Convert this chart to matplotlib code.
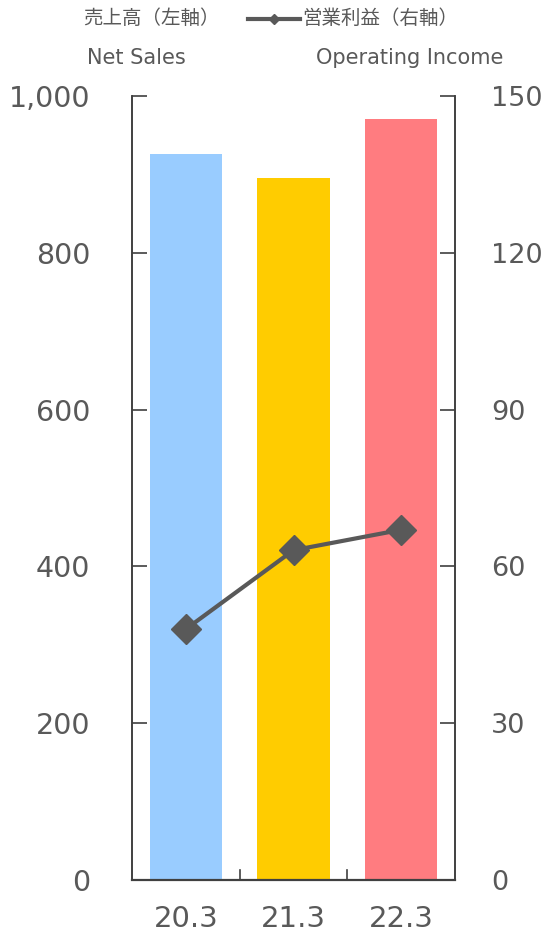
import matplotlib
matplotlib.use("Agg")
import matplotlib.pyplot as plt
from matplotlib.lines import Line2D

plt.rcParams['font.family'] = ['DejaVu Sans', 'Noto Sans CJK JP']

years = ["20.3", "21.3", "22.3"]
net_sales = [926, 895, 971]
operating_income = [48.0, 63.1, 67.0]
bar_colors = ["#99CCFF", "#FFCC00", "#FF7C80"]

left_ticks = [0, 200, 400, 600, 800, 1000]
left_labels = ["0", "200", "400", "600", "800", "1,000"]
right_ticks = [0, 30, 60, 90, 120, 150]

gray = "#595959"
spine_c = "#404040"

fig = plt.figure(figsize=(5.45, 9.35), dpi=100)
ax = fig.add_axes([132 / 545, 1 - 880 / 935, 323 / 545, 784 / 935])
ax2 = ax.twinx()

x = range(len(years))
ax.bar(x, net_sales, width=0.67, color=bar_colors, zorder=2)
ax.set_xlim(-0.5, 2.5)
ax.set_ylim(0, 1000)
ax.set_yticks(left_ticks)
ax.set_yticklabels(left_labels)
ax.set_xticks(list(x))
ax.set_xticklabels(years)
ax.tick_params(axis='x', length=0, labelsize=21, labelcolor=gray, pad=18)
ax.tick_params(axis='y', direction='in', length=11, width=1.2, color=spine_c,
               labelsize=20.5, labelcolor=gray, pad=30)
for tx in [0.5, 1.5]:
    ax.plot([tx, tx], [0, 13], color=spine_c, lw=1.2, zorder=3, clip_on=False)

ax2.plot(list(x), operating_income, color=gray, lw=3, marker='D', markersize=15,
         zorder=4)
ax2.set_ylim(0, 150)
ax2.set_yticks(right_ticks)
ax2.tick_params(axis='y', direction='in', length=11, width=1.2, color=spine_c,
                labelsize=19.5, labelcolor=gray, pad=26)

for a in (ax, ax2):
    a.spines['top'].set_visible(False)
    for s in ('left', 'right', 'bottom'):
        a.spines[s].set_color(spine_c)
        a.spines[s].set_linewidth(1.2)
ax.spines['bottom'].set_linewidth(1.6)

# header texts
cjk = ['Noto Sans CJK JP', 'DejaVu Sans']
fig.text(83 / 545, 1 - 18 / 935, "売上高（左軸）", fontsize=14, color=gray,
         va='center', ha='left', family=cjk)
fig.text(87 / 545, 1 - 58 / 935, "Net Sales", fontsize=15, color=gray,
         va='center', ha='left')
fig.text(302 / 545, 1 - 18 / 935, "営業利益（右軸）", fontsize=14, color=gray,
         va='center', ha='left', family=cjk)
fig.text(316 / 545, 1 - 58 / 935, "Operating Income", fontsize=15, color=gray,
         va='center', ha='left')
fig.add_artist(Line2D([248 / 545, 300 / 545], [1 - 19 / 935, 1 - 19 / 935],
                      color=gray, lw=3, transform=fig.transFigure))
fig.add_artist(Line2D([274 / 545], [1 - 19 / 935], color=gray, marker='D',
                      markersize=5, transform=fig.transFigure))

fig.savefig("out.png", dpi=100)
